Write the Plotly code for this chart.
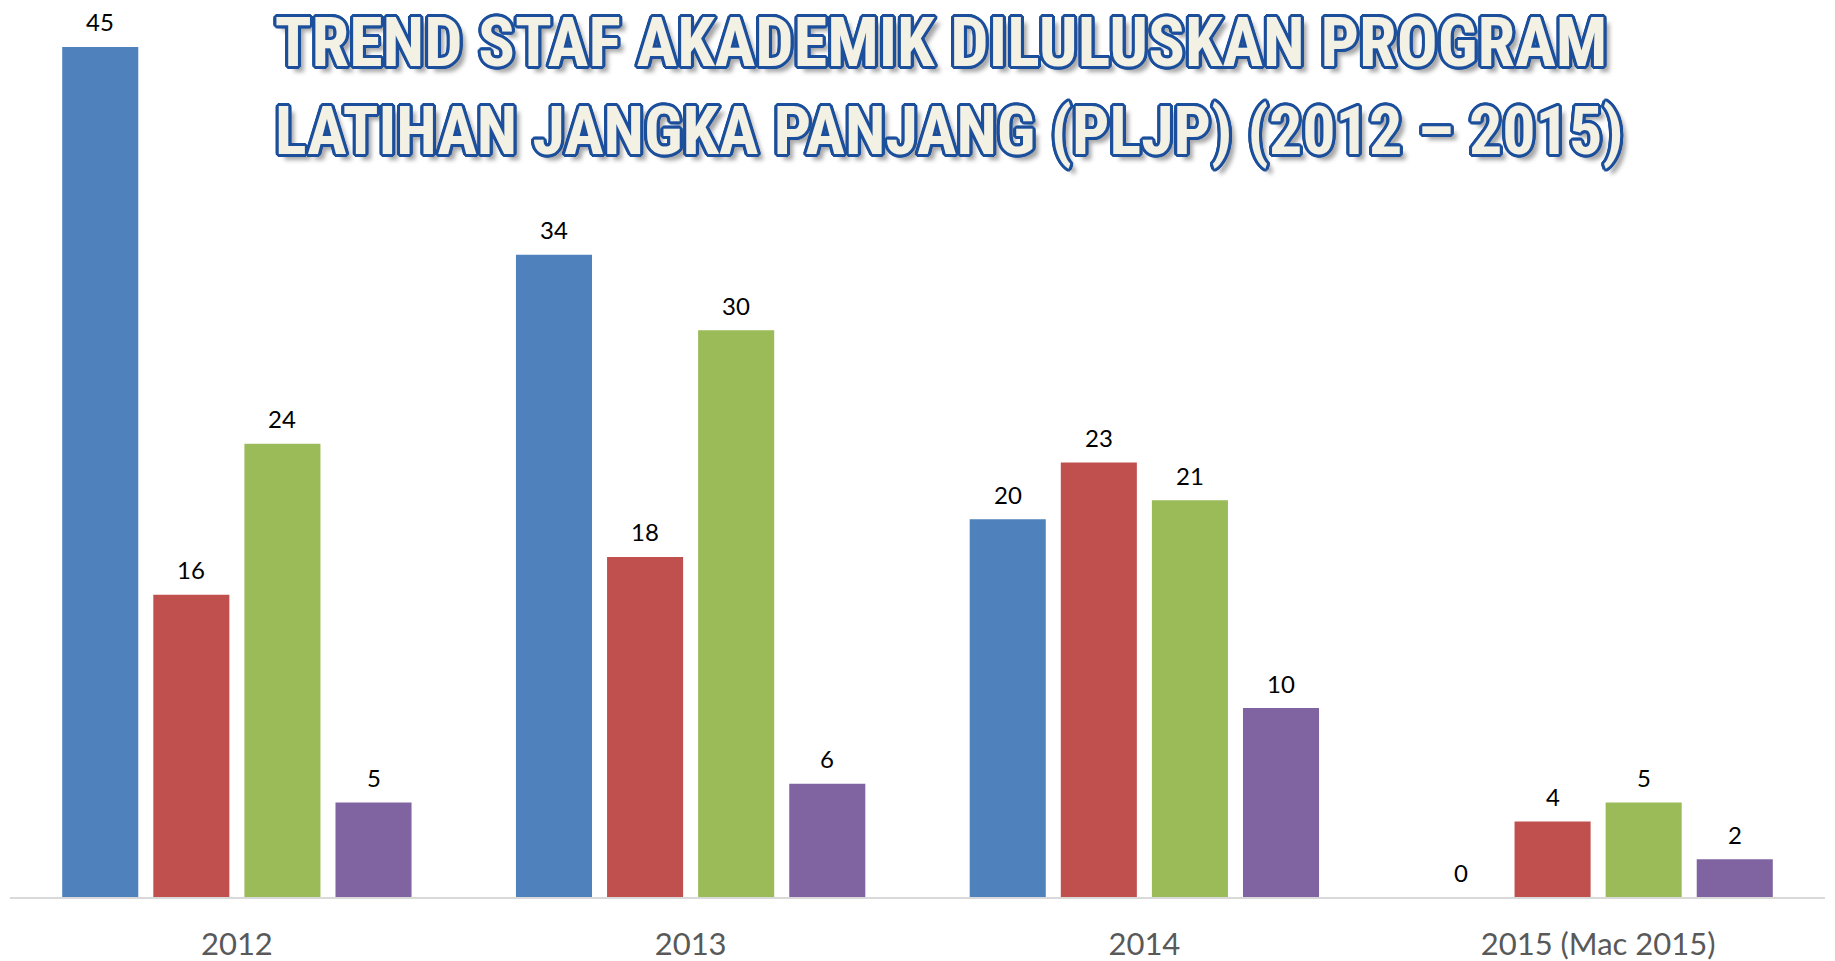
import plotly.graph_objects as go

categories = ["2012", "2013", "2014", "2015 (Mac 2015)"]
series_a = [45, 34, 20, 0]
series_b = [16, 18, 23, 4]
series_c = [24, 30, 21, 5]
series_d = [5, 6, 10, 2]

colors = ["#4F81BD", "#C0504D", "#9BBB59", "#8064A2"]
all_series = [series_a, series_b, series_c, series_d]

title_line1 = "TREND STAF AKADEMIK DILULUSKAN PROGRAM"
title_line2 = "LATIHAN JANGKA PANJANG (PLJP) (2012 – 2015)"

W, H = 1835, 961
ML, MR, MT, MB = 10, 10, 20, 64
plot_w = W - ML - MR
plot_h = H - MT - MB
cat_px = plot_w / len(categories)
bargap = 0.197
groupgap = 0.165
slot_px = cat_px * (1 - bargap) / len(all_series)

fig = go.Figure()
for i, vals in enumerate(all_series):
    fig.add_trace(go.Bar(
        x=categories, y=vals,
        marker=dict(color=colors[i], line=dict(width=0)),
        showlegend=False, hoverinfo="skip",
    ))

annotations = []
for i, vals in enumerate(all_series):
    xshift = (i - (len(all_series) - 1) / 2) * slot_px
    for j, v in enumerate(vals):
        annotations.append(dict(
            x=j, y=v, xref="x", yref="y", text=str(v), showarrow=False,
            xshift=xshift, yshift=25, yanchor="middle",
            font=dict(family="Lato, Open Sans, sans-serif", size=24, color="#000000"),
        ))

outline = "#1B4F9C"
shadows = []
for dx, dy in [(-3, 0), (3, 0), (0, -3), (0, 3), (-2, -2), (2, -2), (-2, 2), (2, 2),
               (-1, -3), (1, -3), (-1, 3), (1, 3), (-3, -1), (3, -1), (-3, 1), (3, 1)]:
    shadows.append(f"{dx}px {dy}px 0 {outline}")
shadows.append("6px 6px 4px rgba(60,60,60,0.45)")
title_font = dict(family="Roboto Condensed, DejaVu Sans Condensed, sans-serif",
                  size=68, color="#F3F0E4", weight="bold", shadow=", ".join(shadows))
title_font2 = dict(title_font, size=66)

annotations.append(dict(
    text=title_line2, xref="paper", yref="paper",
    x=(949 - ML) / plot_w, y=1 - (131 - MT) / plot_h,
    xanchor="center", yanchor="middle", showarrow=False, font=title_font2,
))

px_per_unit = 18.89
ymax = plot_h / px_per_unit

fig.update_layout(
    width=W, height=H,
    margin=dict(l=ML, r=MR, t=MT, b=MB, pad=0, autoexpand=False),
    paper_bgcolor="white", plot_bgcolor="white",
    barmode="group", bargap=bargap, bargroupgap=groupgap,
    title=dict(
        text=title_line1,
        x=941 / W, xanchor="center", xref="container",
        y=1 - 42 / H, yanchor="middle", yref="container",
        font=title_font, automargin=False,
    ),
    xaxis=dict(
        type="category", range=[-0.5, len(categories) - 0.5], automargin=False,
        showline=True, linecolor="#D9D9D9", linewidth=2, showgrid=False, zeroline=False,
        ticks="", ticklabelstandoff=19,
        tickfont=dict(family="Lato, Open Sans, sans-serif", size=31, color="#595959"),
    ),
    yaxis=dict(range=[0, ymax], visible=False, showgrid=False, zeroline=False, automargin=False),
    annotations=annotations,
)

fig.write_html("out.html", config={"displayModeBar": False},
               post_script="document.body.style.margin='0';document.body.style.overflow='hidden';")
